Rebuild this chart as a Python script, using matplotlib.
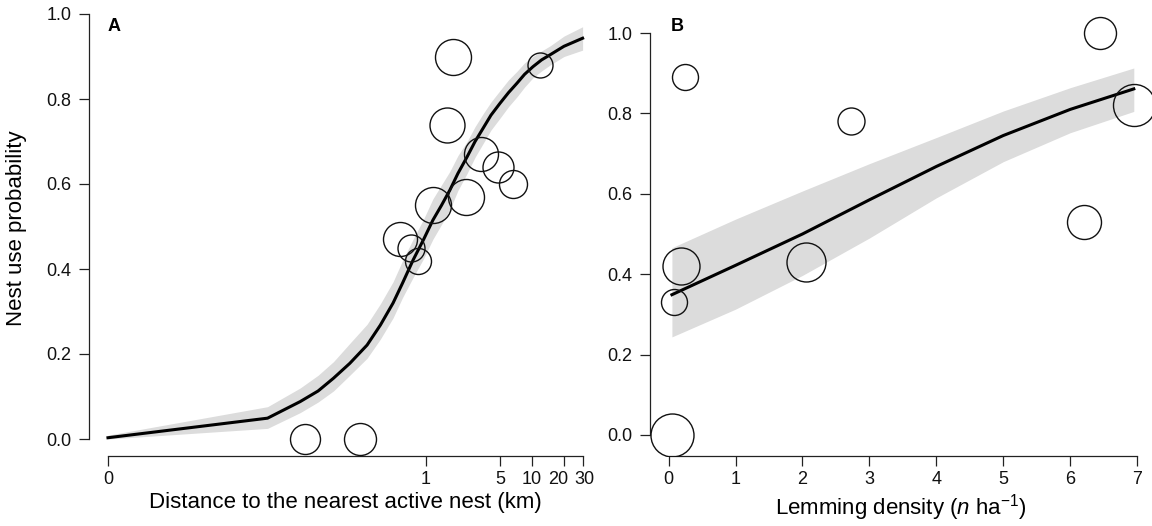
import numpy as np
import matplotlib
matplotlib.use("Agg")
import matplotlib.pyplot as plt
from matplotlib.transforms import ScaledTranslation

plt.rcParams['font.family'] = ['Liberation Sans', 'DejaVu Sans']
plt.rcParams['mathtext.fontset'] = 'custom'
plt.rcParams['mathtext.rm'] = 'Liberation Sans'
plt.rcParams['mathtext.it'] = 'Liberation Sans:italic'

# Panel A: nest use vs distance to nearest active nest (km)
a_dist = [1.79, 1.57, 11.9, 3.32, 4.75, 6.58, 2.37, 1.16, 0.57, 0.72, 0.84, 0.071, 0.238]
a_prob = [0.90, 0.74, 0.88, 0.67, 0.64, 0.60, 0.57, 0.55, 0.47, 0.45, 0.42, 0.0, 0.0]
a_weight = [3.6, 3.5, 2.5, 3.4, 3.1, 2.8, 3.6, 3.6, 3.4, 2.7, 2.6, 3.0, 3.2]

a_fit_x = [0, 0.031, 0.064, 0.095, 0.133, 0.19, 0.277, 0.37, 0.488, 0.6, 0.754, 0.95,
           1.16, 1.4, 1.68, 2.0, 2.44, 2.9, 3.45, 4.1, 4.99, 6.0, 7.2, 8.5, 10.2, 12.3,
           14.8, 20, 30]
a_fit = [0.003, 0.049, 0.088, 0.113, 0.143, 0.178, 0.221, 0.268, 0.32, 0.367, 0.421, 0.47,
         0.515, 0.55, 0.586, 0.625, 0.664, 0.70, 0.731, 0.762, 0.79, 0.815, 0.837, 0.858,
         0.876, 0.892, 0.904, 0.924, 0.943]
a_upper = [0.009, 0.076, 0.12, 0.15, 0.182, 0.225, 0.27, 0.318, 0.37, 0.42, 0.47, 0.518,
           0.565, 0.598, 0.63, 0.667, 0.70, 0.735, 0.765, 0.793, 0.82, 0.845, 0.865, 0.885,
           0.90, 0.913, 0.925, 0.948, 0.97]
a_lower = [0.0, 0.025, 0.062, 0.087, 0.113, 0.15, 0.19, 0.235, 0.285, 0.333, 0.38, 0.425,
           0.47, 0.505, 0.54, 0.585, 0.625, 0.663, 0.695, 0.727, 0.755, 0.782, 0.805, 0.828,
           0.85, 0.866, 0.88, 0.90, 0.915]
a_ticks = [0, 1, 5, 10, 20, 30]

# Panel B: nest use vs lemming density
b_dens = [0.19, 0.085, 2.05, 0.046, 0.24, 2.73, 6.45, 6.95, 6.2]
b_prob = [0.42, 0.33, 0.43, 0.0, 0.89, 0.78, 1.0, 0.82, 0.53]
b_weight = [3.7, 2.6, 3.9, 4.3, 2.6, 2.7, 3.2, 4.2, 3.4]

b_fit_x = [0.05, 1, 2, 3, 4, 5, 6, 6.95]
b_fit = [0.349, 0.422, 0.500, 0.585, 0.668, 0.745, 0.810, 0.861]
b_upper = [0.466, 0.537, 0.607, 0.675, 0.74, 0.806, 0.864, 0.913]
b_lower = [0.244, 0.313, 0.397, 0.49, 0.59, 0.68, 0.752, 0.805]
b_ticks = [0, 1, 2, 3, 4, 5, 6, 7]

y_ticks = [0.0, 0.2, 0.4, 0.6, 0.8, 1.0]


def fwd(x):
    return np.log10(np.clip(1000 * np.asarray(x, dtype=float) + 1, 1e-9, None))


def inv(t):
    return (10 ** np.asarray(t, dtype=float) - 1) / 1000


W, H = 1152, 526
fig = plt.figure(figsize=(W / 100, H / 100), dpi=100)
axA = fig.add_axes([89 / W, (H - 456) / H, (602 - 89) / W, 456 / H])
axB = fig.add_axes([649.5 / W, (H - 456) / H, (1152 - 649.5) / W, 456 / H])

band_col = '#dcdcdc'
px = 0.72  # points per pixel at 100 dpi


def style(ax, xt, xlabels, xb):
    for s in ['top', 'right']:
        ax.spines[s].set_visible(False)
    for s in ['left', 'bottom']:
        ax.spines[s].set_linewidth(0.9)
        ax.spines[s].set_color('#222222')
    ax.spines['left'].set_bounds(0, 1)
    ax.spines['bottom'].set_bounds(*xb)
    ax.set_xticks(xt)
    ax.set_xticklabels(xlabels)
    ax.xaxis.set_minor_locator(matplotlib.ticker.NullLocator())
    ax.set_yticks(y_ticks)
    ax.set_yticklabels(['%.1f' % v for v in y_ticks])
    ax.tick_params(axis='both', length=7, width=0.9, color='#222222',
                   labelsize=13, labelcolor='#111111')
    ax.tick_params(axis='x', pad=4)
    ax.tick_params(axis='y', pad=5.5)


# --- A ---
axA.set_xscale('function', functions=(fwd, inv))
axA.fill_between(a_fit_x, a_lower, a_upper, color=band_col, lw=0, zorder=1)
axA.plot(a_fit_x, a_fit, color='black', lw=2.2, zorder=2)
for x, y, w in zip(a_dist, a_prob, a_weight):
    axA.plot(x, y, 'o', mfc='none', mec='#111111', mew=1.0, ms=w * 10 * px, zorder=3)
axA.set_xlim(inv(-0.179), inv(4.66))
axA.set_ylim(-0.04, 1 + 14 / 425)
style(axA, a_ticks, [str(v) for v in a_ticks], (0, 30))
# nudge crowded tick labels apart as in the original
lbls = axA.get_xticklabels()
lbls[4].set_transform(lbls[4].get_transform() + ScaledTranslation(-4 / 72, 0, fig.dpi_scale_trans))
lbls[5].set_transform(lbls[5].get_transform() + ScaledTranslation(1 / 72, 0, fig.dpi_scale_trans))
axA.set_xlabel('Distance to the nearest active nest (km)', fontsize=16)
axA.xaxis.set_label_coords(0.5, -0.079)
axA.set_ylabel('Nest use probability', fontsize=16)
axA.yaxis.set_label_coords(-0.121, 0.5)
axA.text(0.037, 0.9605, 'A', transform=axA.transAxes, fontsize=13,
         fontweight='bold', ha='left', va='top')

# --- B ---
axB.fill_between(b_fit_x, b_lower, b_upper, color=band_col, lw=0, zorder=1)
axB.plot(b_fit_x, b_fit, color='black', lw=2.2, zorder=2)
for x, y, w in zip(b_dens, b_prob, b_weight):
    axB.plot(x, y, 'o', mfc='none', mec='#111111', mew=1.0, ms=w * 10 * px, zorder=3)
axB.set_xlim(-0.285, 7.222)
axB.set_ylim(-0.0523, 1.0822)
style(axB, b_ticks, [str(v) for v in b_ticks], (0, 7))
axB.set_xlabel(r'Lemming density ($\mathit{n}$ ha$^{-1}$)', fontsize=16)
axB.xaxis.set_label_coords(0.5, -0.079)
axB.text(0.0428, 0.9605, 'B', transform=axB.transAxes, fontsize=13,
         fontweight='bold', ha='left', va='top')

fig.savefig('out.png', dpi=100)
